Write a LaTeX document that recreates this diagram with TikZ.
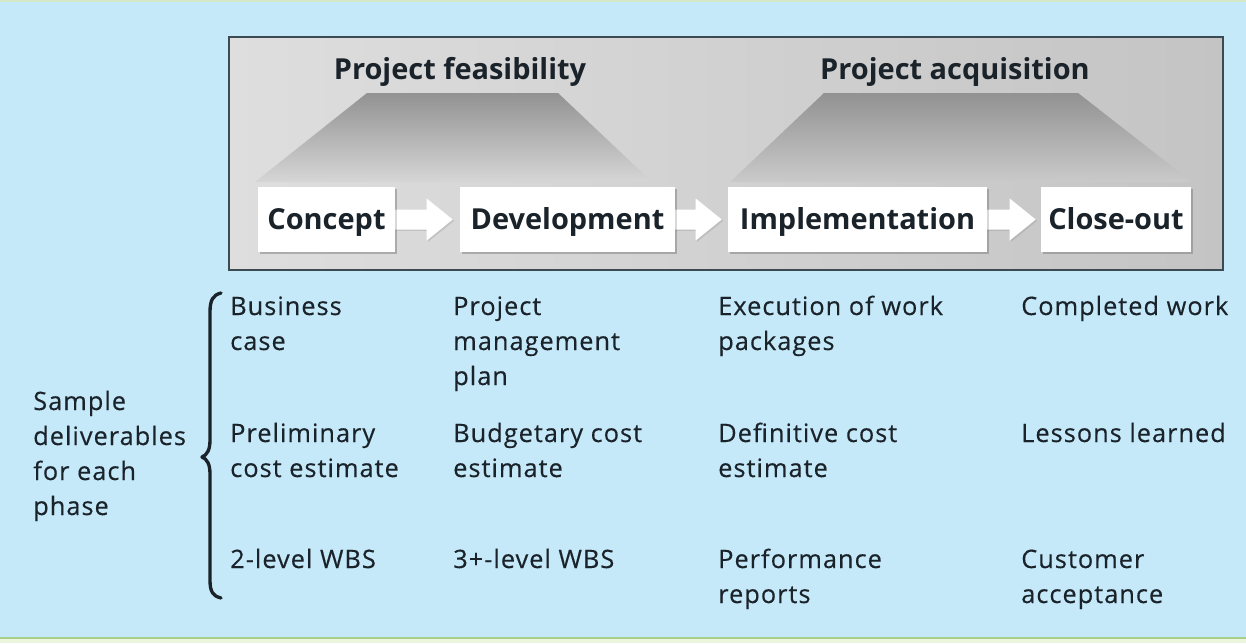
\documentclass[tikz,border=0pt]{standalone}
\usepackage{fontspec}
\setmainfont{Open Sans}
\newfontfamily\dgbodyfam{Open Sans}[LetterSpace=4,FakeBold=0.3]
\usetikzlibrary{calc,shadows}
\definecolor{bgblue}{RGB}{197,233,248}
\definecolor{ink}{RGB}{26,34,42}
\definecolor{framebd}{RGB}{60,74,82}
\definecolor{frameL}{RGB}{222,222,222}
\definecolor{frameR}{RGB}{196,196,196}
\definecolor{trapT}{RGB}{146,146,146}
\definecolor{trapBa}{RGB}{214,214,214}
\definecolor{trapBb}{RGB}{202,202,202}
\definecolor{greenline}{RGB}{168,208,140}
\definecolor{greenpale}{RGB}{236,245,222}
\newcommand\dgbody{\dgbodyfam\fontsize{19}{26.25}\selectfont}
\newcommand\dghead{\fontsize{21.7}{27}\selectfont\bfseries}
\newcommand\ml[1]{\begin{tabular}[t]{@{}l@{}}#1\end{tabular}}
\newcommand\dgarrow[3]{%
  \fill[white, drop shadow={shadow xshift=1pt, shadow yshift=-1pt, opacity=0.25}]
    ($(#1.east)+(-2,-10)$) -- ($(#2.west)+(-#3-26,-10)$) -- ($(#2.west)+(-#3-26,-21)$)
    -- ($(#2.west)+(-#3,0)$) -- ($(#2.west)+(-#3-26,21)$) -- ($(#2.west)+(-#3-26,10)$)
    -- ($(#1.east)+(-2,10)$) -- cycle;}
\begin{document}
\begin{tikzpicture}[x=0.75pt,y=-0.75pt,
  phase/.style={fill=white, inner sep=0pt, minimum height=48.75pt, font=\dghead, text=ink,
    text height=15.5pt, text depth=0pt,
    drop shadow={shadow xshift=1.5pt, shadow yshift=-1.5pt, opacity=0.3}},
  phasetext/.style={phase, drop shadow={opacity=0}},
  head/.style={font=\dghead, text=ink, inner sep=0pt, anchor=base},
  body/.style={font=\dgbody, text=ink, inner sep=0pt, anchor=base west},
  bracestyle/.style={draw=ink, line width=2.5pt, line cap=round, line join=round}]
\useasboundingbox (0,0) rectangle (1246,643);
\fill[bgblue] (0,0) rectangle (1246,643);
\fill[greenline!50] (0,0) rectangle (1246,1.5);
\fill[greenpale] (0,639) rectangle (1246,643);
\fill[greenline] (0,636.5) rectangle (1246,639);

% frame
\shade[left color=frameL, right color=frameR] (229,37) rectangle (1223,270);
\draw[framebd, line width=1.6pt] (229,37) rectangle (1223,270);

% trapezoids
\shade[top color=trapT, bottom color=trapBa] (367,93) -- (558,93) -- (652,182) -- (255,182) -- cycle;
\shade[top color=trapT, bottom color=trapBb] (824,93) -- (1078,93) -- (1192,182) -- (730,182) -- cycle;

% headings
\node[head] (feas) at (460,79) {Project feasibility};
\node[head] (acq) at (955,79) {Project acquisition};

% phase boxes (positions)
\path (326.5,219.5) coordinate (pc) (567.5,219.5) coordinate (pd)
      (857.5,219.5) coordinate (pi) (1116,219.5) coordinate (po);
\node[phase, minimum width=102.75pt] (concept) at (pc) {};
\node[phase, minimum width=161.25pt] (dev) at (pd) {};
\node[phase, minimum width=194.25pt] (impl) at (pi) {};
\node[phase, minimum width=112.5pt] (close) at (po) {};

% arrows
\dgarrow{concept}{dev}{7}
\dgarrow{dev}{impl}{6}
\dgarrow{impl}{close}{5}

% box labels over arrows
\node[phasetext, minimum width=102.75pt] (conceptT) at (pc) {Concept};
\node[phasetext, minimum width=161.25pt] (devT) at (pd) {Development};
\node[phasetext, minimum width=194.25pt] (implT) at (pi) {Implementation};
\node[phasetext, minimum width=112.5pt] (closeT) at (po) {Close-out};

% left label
\node[body] (sample) at (33,410) {\ml{Sample\\deliverables\\for each\\phase}};

% brace
\draw[bracestyle] (221,293) .. controls (213,295) and (210,300) .. (210,312)
  -- (210,440) .. controls (210,450) and (207,455) .. (202,457)
  .. controls (207,459) and (210,464) .. (210,474)
  -- (210,580) .. controls (210,592) and (213,596) .. (221,598);

% deliverables
\node[body] (c1r1) at (230,315) {\ml{Business\\case}};
\node[body] (c1r2) at (230,442) {\ml{Preliminary\\cost estimate}};
\node[body] (c1r3) at (230,568) {\ml{2-level WBS}};

\node[body] (c2r1) at (453,315) {\ml{Project\\management\\plan}};
\node[body] (c2r2) at (453,442) {\ml{Budgetary cost\\estimate}};
\node[body] (c2r3) at (453,568) {\ml{3+-level WBS}};

\node[body] (c3r1) at (718,315) {\ml{Execution of work\\packages}};
\node[body] (c3r2) at (718,442) {\ml{Definitive cost\\estimate}};
\node[body] (c3r3) at (718,568) {\ml{Performance\\reports}};

\node[body] (c4r1) at (1021,315) {\ml{Completed work}};
\node[body] (c4r2) at (1021,442) {\ml{Lessons learned}};
\node[body] (c4r3) at (1021,568) {\ml{Customer\\acceptance}};
\end{tikzpicture}
\end{document}
